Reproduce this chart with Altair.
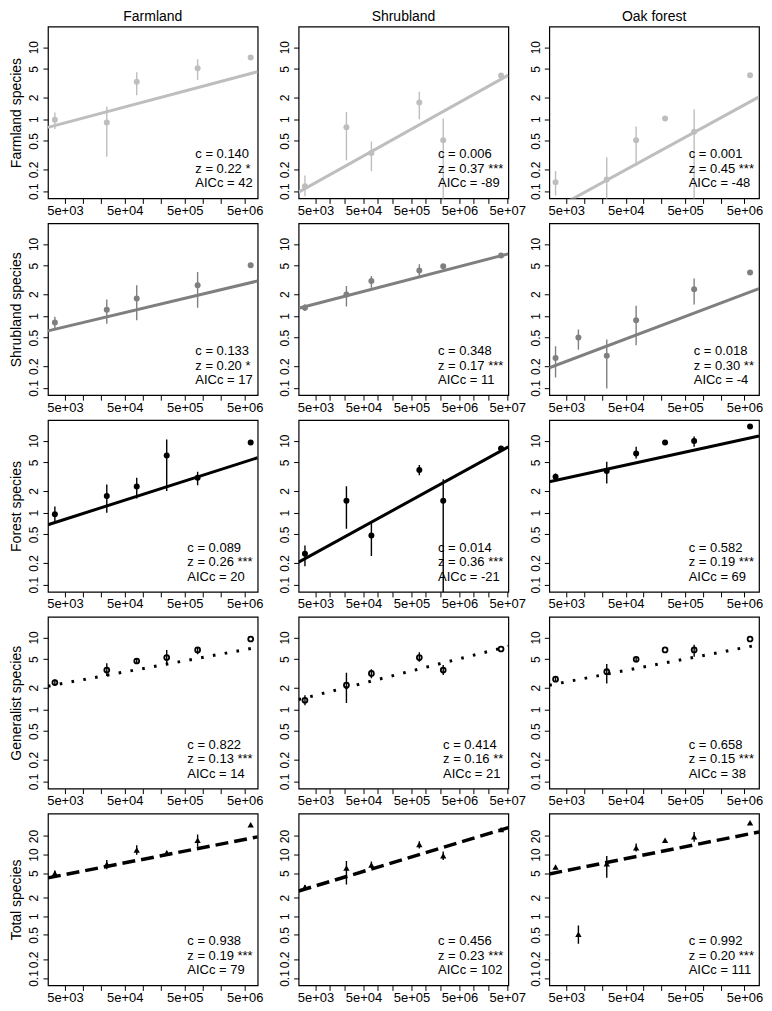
import altair as alt
import pandas as pd

FONT = "Liberation Sans"

habitats = ["Farmland", "Shrubland", "Oak forest"]
species_groups = ["Farmland species", "Shrubland species", "Forest species",
                  "Generalist species", "Total species"]

# sampled areas (x) of each habitat column
area_farmland = [3400, 25000, 79000, 250000, 820000, 6300000]
area_shrubland = [3000, 22000, 73000, 730000, 2300000, 37000000]
area_oak = [3300, 8000, 24000, 75000, 230000, 710000, 6200000]

# x-axis range of each column
xrange_farmland = [2606, 8.24e6]
xrange_shrubland = [2213, 5.25e7]
xrange_oak = [2588, 8.77e6]

# y-axis ranges
yrange_groups = [0.0794, 19.28]
yrange_total = [0.0759, 46.2]

# axis ticks and labels
x_ticks = [2000, 5000, 10000, 20000, 50000, 100000, 200000, 500000, 1000000,
           2000000, 5000000, 10000000, 20000000, 50000000]
x_label_values = [5000, 50000, 500000, 5000000, 50000000]
x_label_texts = ["5e+03", "5e+04", "5e+05", "5e+06", "5e+07"]
y_ticks_groups = [0.1, 0.2, 0.5, 1, 2, 5, 10]
y_ticks_total = [0.1, 0.2, 0.5, 1, 2, 5, 10, 20]

# points: (area index, mean richness, lower, upper)
farmsp_farmland = [(0, 0.98, 0.73, 1.24), (1, 0.90, 0.30, 1.5), (2, 3.3, 2.15, 4.5),
                   (4, 5.1, 3.5, 6.8), (5, 7.2, None, None)]
farmsp_shrubland = [(0, 0.117, 0.085, 0.165), (1, 0.77, 0.27, 1.26), (2, 0.34, 0.19, 0.49),
                    (3, 1.7, 1.0, 2.4), (4, 0.51, 0.05, 1.02), (5, 4.05, None, None)]
farmsp_oak = [(0, 0.133, 0.087, 0.19), (2, 0.145, 0.05, 0.295), (3, 0.51, 0.226, 0.79),
              (4, 1.02, None, None), (5, 0.67, 0.05, 1.37), (6, 4.06, None, None)]

shrubsp_farmland = [(0, 0.81, 0.67, 0.97), (1, 1.22, 0.78, 1.69), (2, 1.74, 0.87, 2.67),
                    (4, 2.67, 1.3, 4.08), (5, 5.05, None, None)]
shrubsp_shrubland = [(0, 1.30, 1.17, 1.45), (1, 1.99, 1.35, 2.6), (2, 3.05, 2.46, 3.57),
                     (3, 4.28, 3.57, 5.2), (4, 4.91, None, None), (5, 6.9, None, None)]
shrubsp_oak = [(0, 0.26, 0.14, 0.38), (1, 0.50, 0.34, 0.65), (2, 0.28, 0.098, 0.47),
               (3, 0.87, 0.39, 1.38), (5, 2.35, 1.44, 3.3), (6, 4.0, None, None)]

forestsp_farmland = [(0, 0.95, 0.74, 1.22), (1, 1.71, 1.0, 2.46), (2, 2.31, 1.57, 3.05),
                     (3, 6.2, 2.0, 10.4), (4, 3.05, 2.4, 3.7), (5, 9.4, None, None)]
forestsp_shrubland = [(0, 0.268, 0.18, 0.35), (1, 1.46, 0.6, 2.33), (2, 0.48, 0.25, 0.72),
                      (3, 3.9, 3.3, 4.6), (4, 1.46, 0.05, 2.9), (5, 7.8, None, None)]
forestsp_oak = [(0, 3.15, 2.74, 3.5), (2, 3.8, 2.54, 5.1), (3, 6.65, 5.66, 8.2),
                (4, 9.4, None, None), (5, 9.9, 8.2, 11.4), (6, 15.7, None, None)]

gensp_farmland = [(0, 2.36, 2.17, 2.6), (1, 3.52, 2.9, 4.37), (2, 4.7, 4.3, 5.0),
                  (3, 5.25, 4.1, 6.7), (4, 6.7, 5.84, 7.3), (5, 9.5, None, None)]
gensp_shrubland = [(0, 1.34, 1.14, 1.57), (1, 2.17, 1.23, 3.23), (2, 3.16, 2.7, 3.6),
                   (3, 5.25, 4.6, 6.2), (4, 3.52, 3.0, 4.14), (5, 6.9, None, None)]
gensp_oak = [(0, 2.63, 2.45, 2.8), (2, 3.34, 2.29, 4.27), (3, 4.97, 4.5, 5.4),
             (4, 6.7, None, None), (5, 6.7, 5.4, 7.9), (6, 9.5, None, None)]

totsp_farmland = [(0, 5.0, 4.6, 5.5), (1, 7.0, 5.8, 8.2), (2, 11.9, 9.9, 14.2),
                  (3, 10.7, 10.0, 11.5), (4, 17.1, 13.4, 21.1), (5, 30.5, None, None)]
totsp_shrubland = [(0, 2.97, 2.8, 3.2), (1, 6.05, 3.28, 7.9), (2, 6.8, 6.0, 7.7),
                   (3, 14.6, 12.6, 16.5), (4, 9.6, 8.2, 11.2), (5, 25.4, None, None)]
totsp_oak = [(0, 6.3, None, None), (1, 0.51, 0.36, 0.71), (2, 7.1, 4.2, 9.5),
             (3, 12.9, 11.2, 15.2), (4, 17.1, None, None), (5, 19.4, 16.1, 23.3),
             (6, 32.8, None, None)]

# fitted power-law line: richness at the left and right ends of the x range
fit_farmsp = [(0.77, 4.57), (0.097, 4.1), (0.052, 2.04)]
fit_shrubsp = [(0.62, 3.06), (1.28, 7.27), (0.19, 2.4)]
fit_forestsp = [(0.68, 5.8), (0.205, 8.2), (2.68, 11.6)]
fit_gensp = [(2.1, 7.3), (1.37, 7.5), (2.17, 7.9)]
fit_totsp = [(4.19, 19.4), (2.57, 27.3), (4.86, 23.3)]

# model statistics: (c, z with significance, AICc)
stats_farmsp = [("0.140", "0.22 *", "42"), ("0.006", "0.37 ***", "-89"), ("0.001", "0.45 ***", "-48")]
stats_shrubsp = [("0.133", "0.20 *", "17"), ("0.348", "0.17 ***", "11"), ("0.018", "0.30 **", "-4")]
stats_forestsp = [("0.089", "0.26 ***", "20"), ("0.014", "0.36 ***", "-21"), ("0.582", "0.19 ***", "69")]
stats_gensp = [("0.822", "0.13 ***", "14"), ("0.414", "0.16 **", "21"), ("0.658", "0.15 ***", "38")]
stats_totsp = [("0.938", "0.19 ***", "79"), ("0.456", "0.23 ***", "102"), ("0.992", "0.20 ***", "111")]

# ---------------------------------------------------------------------------
areas = [area_farmland, area_shrubland, area_oak]
xranges = [xrange_farmland, xrange_shrubland, xrange_oak]
points = [
    [farmsp_farmland, farmsp_shrubland, farmsp_oak],
    [shrubsp_farmland, shrubsp_shrubland, shrubsp_oak],
    [forestsp_farmland, forestsp_shrubland, forestsp_oak],
    [gensp_farmland, gensp_shrubland, gensp_oak],
    [totsp_farmland, totsp_shrubland, totsp_oak],
]
fits = [fit_farmsp, fit_shrubsp, fit_forestsp, fit_gensp, fit_totsp]
stats = [stats_farmsp, stats_shrubsp, stats_forestsp, stats_gensp, stats_totsp]

W, H = 210, 172
FS_TEXT = 13

row_colors = ["#bebebe", "#7f7f7f", "black", "black", "black"]
row_dash = [None, None, None, [2.6, 9.4], [13, 6]]
row_lw = [3, 3, 3, 3, 3.5]

CHAR_W = {"0": 556, "1": 556, "2": 556, "3": 556, "4": 556, "5": 556, "6": 556,
          "7": 556, "8": 556, "9": 556, " ": 278, "=": 584, "c": 500, "z": 500,
          ".": 278, "*": 389, "-": 333, "A": 667, "I": 278, "C": 722}


def text_width(s, size):
    return sum(CHAR_W.get(ch, 556) for ch in s) * size / 1000.0


label_expr = " : ".join(
    f"abs(datum.value - {v}) < 1 ? '{t}'" for v, t in zip(x_label_values, x_label_texts)
) + " : ''"


def panel(r, c):
    pts = points[r][c]
    df = pd.DataFrame({
        "area": [areas[c][p[0]] for p in pts],
        "richness": [p[1] for p in pts],
        "lo": [p[2] for p in pts],
        "hi": [p[3] for p in pts],
    })
    bars = df.dropna(subset=["lo", "hi"]).astype(float)
    pts_df = df[["area", "richness"]].astype(float)
    xdom = xranges[c]
    ydom = yrange_total if r == 4 else yrange_groups
    yt = y_ticks_total if r == 4 else y_ticks_groups
    xt = [t for t in x_ticks if xdom[0] <= t <= xdom[1]]
    line_df = pd.DataFrame({"area": xdom, "richness": list(fits[r][c])})

    xscale = alt.Scale(type="log", domain=xdom, nice=False)
    yscale = alt.Scale(type="log", domain=ydom, nice=False)
    xaxis = alt.Axis(values=xt, labelExpr=label_expr, title=None, labelFontSize=13,
                     labelPadding=1, labelFlush=False, labelOverlap=False)
    yaxis_kw = dict(values=yt, format="~g", labelAngle=270, labelAlign="center",
                    labelBaseline="bottom", labelFontSize=12, labelPadding=2,
                    labelOverlap=False, labelFlush=False)
    if c == 0:
        yaxis = alt.Axis(title=species_groups[r], titleFontSize=14, titleFontWeight="normal",
                         titlePadding=4, **yaxis_kw)
    else:
        yaxis = alt.Axis(title=None, **yaxis_kw)

    col = row_colors[r]
    line_kw = dict(color=col, strokeWidth=row_lw[r], clip=True)
    if row_dash[r] is not None:
        line_kw["strokeDash"] = row_dash[r]
        line_kw["strokeCap"] = "butt"

    line = alt.Chart(line_df).mark_line(**line_kw).encode(
        x=alt.X("area:Q", scale=xscale, axis=xaxis),
        y=alt.Y("richness:Q", scale=yscale, axis=yaxis),
    )
    rules = alt.Chart(bars).mark_rule(color=col, strokeWidth=1.4, clip=True).encode(
        x=alt.X("area:Q", scale=xscale, axis=xaxis),
        y=alt.Y("lo:Q", scale=yscale, axis=yaxis),
        y2="hi:Q",
    )
    if r < 3:
        pmark = alt.Chart(pts_df).mark_point(shape="circle", filled=True, size=36,
                                             color=col, opacity=1)
    elif r == 3:
        pmark = alt.Chart(pts_df).mark_point(shape="circle", filled=False, size=24,
                                             color="black", strokeWidth=1.8, opacity=1)
    else:
        pmark = alt.Chart(pts_df).mark_point(shape="triangle-up", filled=True, size=40,
                                             color="black", opacity=1)
    pts_layer = pmark.encode(
        x=alt.X("area:Q", scale=xscale, axis=xaxis),
        y=alt.Y("richness:Q", scale=yscale, axis=yaxis),
    )

    cval, zval, aval = stats[r][c]
    lines = [f"c = {cval}", f"z = {zval}", f"AICc = {aval}"]
    maxw = max(text_width(s, FS_TEXT) for s in lines)
    x0 = W - 5 - maxw
    texts = []
    for k, s in enumerate(lines):
        yy = H - 44 + 14.5 * k
        texts.append(
            alt.Chart(alt.Data(values=[{}])).mark_text(
                align="left", baseline="middle", font=FONT, fontSize=FS_TEXT, color="black"
            ).encode(x=alt.value(x0), y=alt.value(yy), text=alt.value(s))
        )

    ch = alt.layer(line, rules, pts_layer, *texts).properties(width=W, height=H)
    if r == 0:
        ch = ch.properties(title=alt.TitleParams(habitats[c], fontSize=14, font=FONT,
                                                 fontWeight="normal", color="black",
                                                 offset=3, anchor="middle"))
    return ch


panels = [panel(r, c) for r in range(5) for c in range(3)]

chart = alt.concat(
    *panels, columns=3, spacing={"row": 25, "column": 41}, bounds="flush"
).properties(
    padding={"left": 1, "top": 0, "right": 0, "bottom": 0}
).configure_view(
    stroke="black", strokeWidth=1.2
).configure_axis(
    labelFont=FONT, titleFont=FONT, labelColor="black", titleColor="black",
    tickColor="black", tickSize=5, tickWidth=1, domain=False, grid=False
).configure_title(font=FONT)

chart.save("out.html", embed_options={"renderer": "svg", "actions": False})
